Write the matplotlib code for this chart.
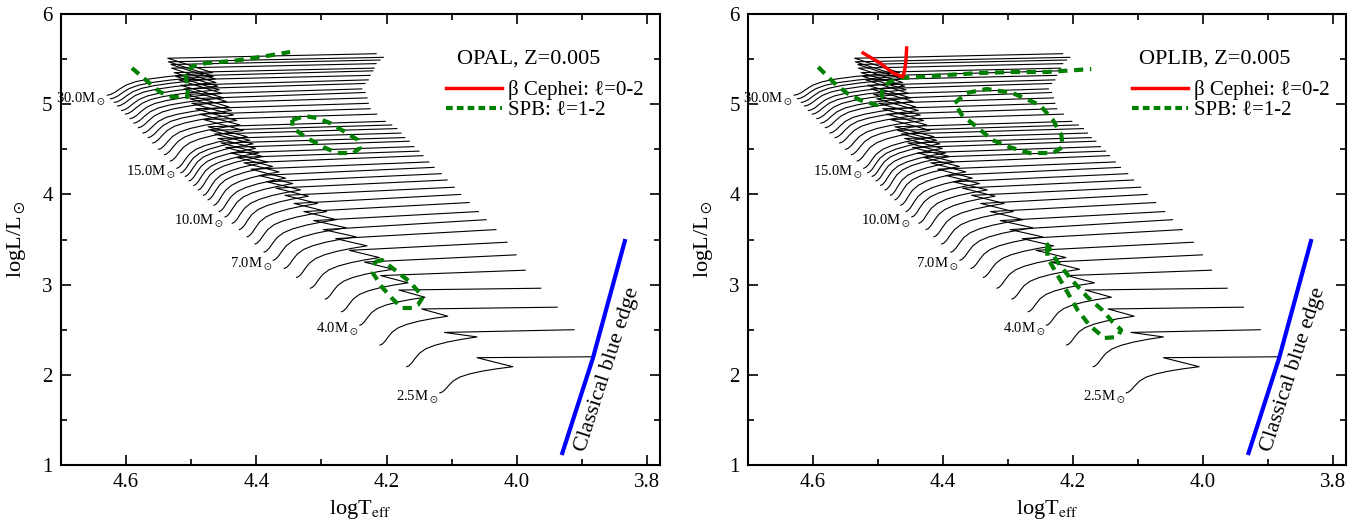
import matplotlib.pyplot as plt
import numpy as np

plt.rcParams['font.family'] = ['Liberation Serif', 'DejaVu Serif']
plt.rcParams['mathtext.fontset'] = 'stix'

# evolutionary tracks
masses = [2.5, 3.0, 3.5, 4.0, 4.5, 5.0, 5.5, 6.0, 6.5, 7.0, 7.5, 8.0, 8.5, 9.0, 9.5, 10.0,
          10.5, 11.0, 11.5, 12.0, 12.5, 13.0, 13.5, 14.0, 14.5, 15.0,
          16, 17, 18, 19, 20, 21, 22, 23, 24, 25, 26, 27, 28, 29, 30]
zams_logT = [4.118, 4.169, 4.210, 4.241, 4.269, 4.294, 4.317, 4.338, 4.357, 4.374, 4.388, 4.402,
             4.414, 4.426, 4.437, 4.448, 4.457, 4.465, 4.474, 4.481, 4.489, 4.496, 4.503, 4.509,
             4.516, 4.522, 4.532, 4.541, 4.550, 4.559, 4.566, 4.574, 4.581, 4.588, 4.594, 4.601,
             4.607, 4.613, 4.618, 4.624, 4.629]
zams_logL = [1.80, 2.09, 2.33, 2.55, 2.70, 2.84, 2.96, 3.08, 3.18, 3.27, 3.36, 3.45, 3.53, 3.61,
             3.68, 3.75, 3.81, 3.88, 3.94, 3.99, 4.05, 4.10, 4.15, 4.20, 4.24, 4.29,
             4.37, 4.44, 4.50, 4.57, 4.63, 4.68, 4.74, 4.79, 4.84, 4.89, 4.93, 4.98, 5.02, 5.06, 5.10]
# main-sequence width (ZAMS -> coolest MS point)
ms_dT = [.112, .108, .104, .100, .102, .104, .106, .108, .110, .112, .111, .110, .108, .106, .105,
         .104, .102, .100, .099, .098, .099, .100, .102, .104, .106, .108, .112, .116, .120, .124,
         .128, .132, .135, .138, .141, .144, .148, .151, .155, .158, .162]
ms_dL = [.29, .33, .32, .31, .32, .33, .34, .35, .35, .36, .36, .36, .37, .37, .37, .37, .37, .37,
         .37, .37, .37, .36, .36, .36, .36, .35, .34, .33, .32, .31, .30, .29, .29, .28, .28, .27,
         .27, .26, .26, .25, .25]
# hook back to the hotter side
hook_dT = [.055, .050, .040, .040, .042, .044, .046, .048, .050, .050, .050, .050, .050, .050,
           .052, .052, .053, .054, .055, .056, .057, .058, .058, .059, .060, .060, .061, .062,
           .063, .064, .064, .065, .065, .066, .066, .067, .067, .068, .068, .069, .069]
hook_dL = [.10, .05, .08, .08, .08, .08, .08, .08, .08, .08, .09, .09, .09, .09, .09, .09, .10, .10,
           .10, .10, .10, .11, .11, .11, .11, .11, .12, .12, .13, .13, .13, .14, .14, .14, .15, .15,
           .15, .16, .16, .16, .16]
end_logT = [3.883, 3.912, 3.938, 3.963, 3.987, 4.001, 4.015, 4.032, 4.047, 4.059, 4.073, 4.086,
            4.096, 4.107, 4.116, 4.127, 4.135, 4.144, 4.150, 4.158, 4.165, 4.172, 4.178, 4.184,
            4.192, 4.202, 4.215, 4.225, 4.228, 4.230, 4.233, 4.238, 4.233, 4.228, 4.225, 4.221,
            4.219, 4.216, 4.210, 4.205, 4.216]
end_logL = [2.20, 2.50, 2.75, 2.96, 3.16, 3.33, 3.47, 3.61, 3.72, 3.81, 3.91, 4.00, 4.08, 4.16,
            4.23, 4.30, 4.36, 4.43, 4.48, 4.53, 4.59, 4.63, 4.68, 4.73, 4.77, 4.81, 4.89, 4.95,
            5.01, 5.07, 5.13, 5.17, 5.23, 5.27, 5.32, 5.37, 5.40, 5.45, 5.49, 5.52, 5.56]
# shape of the MS part (fraction of width / height), read from one track
ms_shape_u = [0, 0.03, 0.07, 0.12, 0.18, 0.27, 0.40, 0.58, 0.78, 1.0]
ms_shape_v = [0, 0.03, 0.12, 0.28, 0.45, 0.60, 0.72, 0.83, 0.92, 1.0]

labelled = [30.0, 15.0, 10.0, 7.0, 4.0, 2.5]

# classical instability strip blue edge
blue_logT = [3.930, 3.883, 3.834]
blue_logL = [1.133, 2.186, 3.483]

# OPAL instability domains
opal_spb = [
    ([4.591, 4.566, 4.548, 4.529, 4.506, 4.505, 4.510, 4.497, 4.476, 4.436, 4.394, 4.348],
     [5.401, 5.246, 5.135, 5.080, 5.080, 5.191, 5.346, 5.424, 5.457, 5.479, 5.523, 5.579]),
    ([4.345, 4.325, 4.307, 4.287, 4.261, 4.244, 4.241, 4.251, 4.276, 4.297, 4.322, 4.344, 4.345],
     [4.825, 4.869, 4.847, 4.792, 4.681, 4.603, 4.514, 4.459, 4.459, 4.525, 4.625, 4.736, 4.825]),
    ([4.218, 4.207, 4.187, 4.164, 4.144, 4.152, 4.161, 4.176, 4.192, 4.207, 4.221, 4.218],
     [3.251, 3.273, 3.162, 3.029, 2.863, 2.774, 2.741, 2.741, 2.851, 2.973, 3.129, 3.251]),
]
opal_bcep = []

# OPLIB instability domains
oplib_spb = [
    ([4.592, 4.569, 4.548, 4.528, 4.502, 4.494, 4.494, 4.482, 4.467, 4.436, 4.394, 4.344, 4.293,
      4.241, 4.172],
     [5.412, 5.246, 5.124, 5.047, 4.991, 5.069, 5.180, 5.246, 5.290, 5.302, 5.324, 5.346, 5.357,
      5.357, 5.390]),
    ([4.382, 4.364, 4.333, 4.293, 4.251, 4.231, 4.218, 4.216, 4.231, 4.267, 4.298, 4.324, 4.348,
      4.371, 4.382],
     [5.013, 5.124, 5.169, 5.124, 4.991, 4.825, 4.659, 4.525, 4.459, 4.459, 4.525, 4.603, 4.747,
      4.880, 5.013]),
    ([4.241, 4.224, 4.202, 4.178, 4.155, 4.139, 4.126, 4.132, 4.152, 4.175, 4.193, 4.208, 4.224,
      4.239, 4.241],
     [3.461, 3.251, 3.051, 2.863, 2.718, 2.585, 2.497, 2.419, 2.408, 2.552, 2.718, 2.907, 3.106,
      3.295, 3.461]),
]
oplib_bcep = [
    ([4.523, 4.497, 4.477, 4.462, 4.459, 4.457, 4.456],
     [5.568, 5.457, 5.346, 5.302, 5.379, 5.490, 5.623]),
]

panels = [('OPAL, Z=0.005', opal_spb, opal_bcep),
          ('OPLIB, Z=0.005', oplib_spb, oplib_bcep)]

fig = plt.figure(figsize=(13.67, 5.27), dpi=100)
axes = [fig.add_axes([0.0446, 0.1176, 0.4382, 0.8558]),
        fig.add_axes([0.5472, 0.1176, 0.4375, 0.8558])]

for ax, (title, spb, bcep) in zip(axes, panels):
    for i, m in enumerate(masses):
        t0, l0 = zams_logT[i], zams_logL[i]
        ts = [t0 - u * ms_dT[i] for u in ms_shape_u]
        ls = [l0 + v * ms_dL[i] for v in ms_shape_v]
        ts += [ts[-1] + hook_dT[i], end_logT[i]]
        ls += [ls[-1] + hook_dL[i], end_logL[i]]
        ax.plot(ts, ls, color='black', lw=0.8)
        if m in labelled:
            ax.annotate('%.1fM$_\\odot$' % m, xy=(t0, l0), xytext=(-1, -3),
                        textcoords='offset points', ha='right', va='center', fontsize=10.5)

    ax.plot(blue_logT, blue_logL, color='blue', lw=3)
    ax.text(3.861, 2.06, 'Classical blue edge', rotation=72, fontsize=16,
            ha='center', va='center', rotation_mode='anchor')

    for t, l in spb:
        ax.plot(t, l, color='green', lw=3, ls=(0, (2.2, 1.6)))
    for t, l in bcep:
        ax.plot(t, l, color='red', lw=2.5)

    ax.text(0.78, 0.90, title, transform=ax.transAxes, fontsize=16, ha='center', va='center')
    ax.plot([], [], color='red', lw=2.5, label='β Cephei: ℓ=0-2')
    ax.plot([], [], color='green', lw=3, ls=(0, (1.6, 1.0)), label='SPB: ℓ=1-2')
    ax.legend(loc='upper left', bbox_to_anchor=(0.642, 0.853), frameon=False,
              fontsize=15, handlelength=2.7, handletextpad=0.3, labelspacing=0.0,
              borderpad=0, borderaxespad=0)

    ax.set_xlim(4.7, 3.78)
    ax.set_ylim(1, 6)
    ax.set_xticks([4.6, 4.4, 4.2, 4.0, 3.8])
    ax.set_xticks(np.arange(3.8, 4.75, 0.1), minor=True)
    ax.set_yticks([1, 2, 3, 4, 5, 6])
    ax.set_yticks(np.arange(1, 6.01, 0.5), minor=True)
    ax.tick_params(which='both', direction='in', top=True, right=True, labelsize=15, width=1.2)
    ax.tick_params(which='major', length=7, pad=6)
    ax.tick_params(which='minor', length=4)
    for s in ax.spines.values():
        s.set_linewidth(1.5)
    ax.set_xlabel('logT$_{\\rm eff}$', fontsize=16, labelpad=4)
    ax.set_ylabel('logL/L$_\\odot$', fontsize=16, labelpad=10)

fig.savefig('out.png', dpi=100)
